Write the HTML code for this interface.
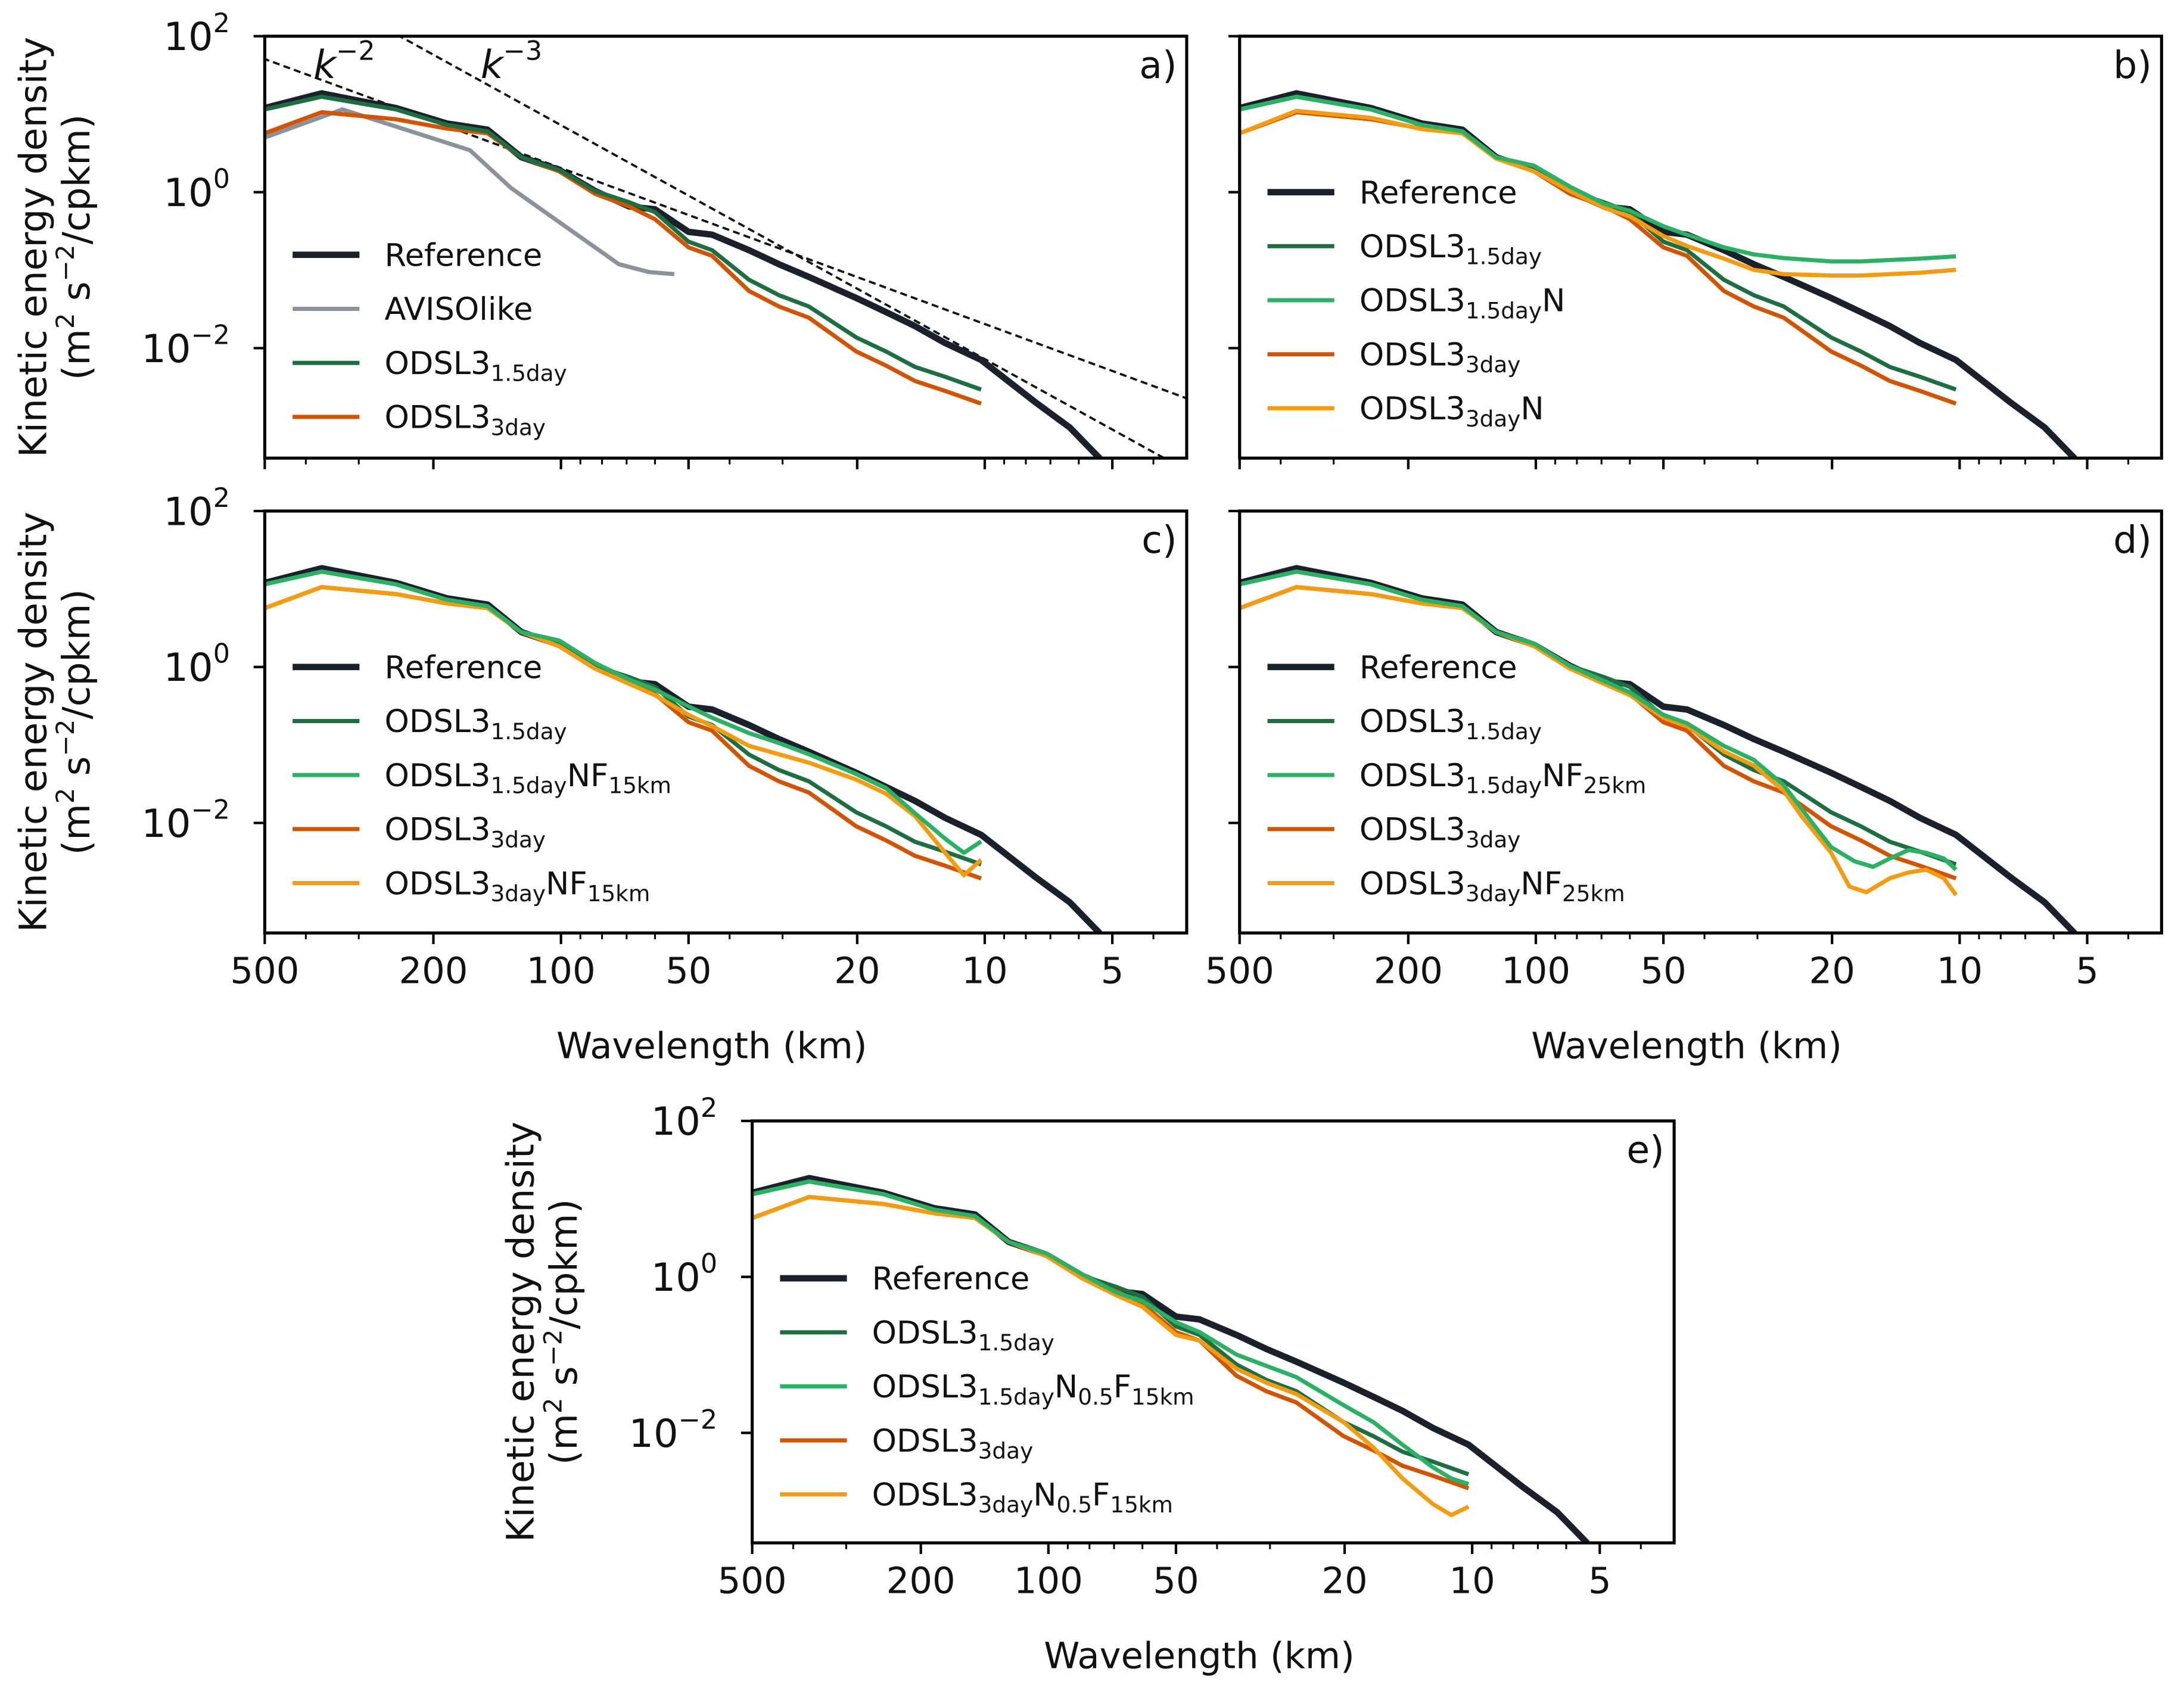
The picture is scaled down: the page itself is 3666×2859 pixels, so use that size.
<!DOCTYPE html>
<html><head><meta charset="utf-8"><style>
html,body{margin:0;padding:0;background:#fff;}
svg{display:block;font-family:"DejaVu Sans","Liberation Sans",sans-serif;}
</style></head><body>
<svg id="fig" xmlns="http://www.w3.org/2000/svg" width="3666" height="2859" viewBox="0 0 1568 1223">
<rect x="0" y="0" width="1568" height="1223" fill="#fff"/>
</svg>
<script>
// ---- data (wavelength km, log10 energy density) ----
const lamGrid = [500,367,245,186,149,124,101,83,69,60,50,44,36,30.6,26,20.1,17.1,14.6,12.4,10.2];
const refLam = [500,367,245,186,149,124,101,83,69,60,50,44,36,30.6,26,20.1,17.1,14.6,12.4,10.2,7.6,6.3,5.35];
const refLog = [1.079,1.267,1.079,0.881,0.801,0.448,0.285,0.014,-0.184,-0.220,-0.509,-0.545,-0.744,-0.924,-1.087,-1.357,-1.538,-1.718,-1.935,-2.152,-2.693,-3.018,-3.415];
const g15Log = [1.061,1.224,1.061,0.863,0.780,0.448,0.285,0.014,-0.130,-0.256,-0.635,-0.744,-1.123,-1.321,-1.466,-1.863,-2.043,-2.242,-2.368,-2.531];
const o3Log = [0.755,1.025,0.935,0.816,0.755,0.448,0.267,-0.022,-0.184,-0.347,-0.708,-0.816,-1.267,-1.466,-1.610,-2.043,-2.224,-2.422,-2.549,-2.711];
const avisoLam = [500,328,164,131,101,73,62,54];
const avisoLog = [0.700,1.061,0.538,0.051,-0.383,-0.924,-1.025,-1.051];
const bG15NLog = [1.061,1.224,1.061,0.863,0.780,0.448,0.339,0.069,-0.148,-0.238,-0.437,-0.545,-0.708,-0.798,-0.845,-0.888,-0.888,-0.870,-0.852,-0.823];
const bO3NLog = [0.755,1.043,0.953,0.809,0.755,0.430,0.267,0.014,-0.202,-0.310,-0.563,-0.690,-0.852,-0.996,-1.051,-1.069,-1.069,-1.051,-1.033,-0.996];
const cLam = [500,367,245,186,149,124,101,83,69,60,50,44,36,30.6,26,20.1,17.1,14.6,12.4,11.2,10.2];
const cG15Log = [1.061,1.224,1.061,0.863,0.780,0.448,0.340,0.050,-0.162,-0.289,-0.505,-0.650,-0.848,-0.975,-1.119,-1.372,-1.552,-1.877,-2.202,-2.383,-2.238];
const cO3Log = [0.755,1.025,0.935,0.816,0.755,0.448,0.267,-0.022,-0.217,-0.361,-0.614,-0.758,-1.011,-1.119,-1.227,-1.444,-1.625,-1.913,-2.383,-2.671,-2.473];
const dG15Lam = [500,367,245,186,149,124,101,83,69,60,50,44,36,30.6,26,22.1,20.1,17.7,16.0,14.6,13.2,12.0,10.9,10.2];
const dG15Log = [1.061,1.224,1.061,0.863,0.780,0.448,0.300,0.014,-0.181,-0.325,-0.614,-0.722,-1.011,-1.191,-1.516,-2.022,-2.310,-2.491,-2.563,-2.455,-2.347,-2.383,-2.455,-2.599];
const dO3Lam = [500,367,245,186,149,124,101,83,69,60,50,44,36,30.6,26,23.6,20.1,18.2,16.6,14.6,13.2,12.0,10.9,10.2];
const dO3Log = [0.755,1.025,0.935,0.816,0.755,0.448,0.267,-0.022,-0.217,-0.361,-0.650,-0.758,-1.083,-1.264,-1.589,-1.913,-2.383,-2.816,-2.888,-2.708,-2.635,-2.599,-2.708,-2.924];
const eG15Log = [1.061,1.224,1.061,0.863,0.780,0.448,0.300,0.030,-0.202,-0.310,-0.581,-0.708,-0.996,-1.141,-1.285,-1.646,-1.863,-2.152,-2.440,-2.585,-2.657];
const eO3Log = [0.755,1.025,0.935,0.816,0.755,0.448,0.267,-0.022,-0.238,-0.383,-0.744,-0.816,-1.177,-1.357,-1.502,-1.863,-2.188,-2.585,-2.910,-3.054,-2.946];
const xTickLabels = [500,200,100,50,20,10,5];
const xMinorTicks = [400,300,90,80,70,60,40,30,9,8,7,6,4];
const yTickExps = [2,0,-2];
const powerExps = [2,3];
const powerAnchorLam = [500,237.5];
const powerAnchorLog = [1.707,1.986];

const C = {ref:'#1b212c', aviso:'#8a929c', g15:'#1d6f42', g15n:'#2bb163', o3:'#d35400', o3n:'#f39c12'};
const LW = 3, RW = 4.6;
const NS='http://www.w3.org/2000/svg';
const svg=document.getElementById('fig');
function el(tag,attrs,parent){const e=document.createElementNS(NS,tag);for(const k in attrs)e.setAttribute(k,attrs[k]);(parent||svg).appendChild(e);return e;}

const W=662,H=303,PXDEC=304.3,PXLOG=56;
const panels=[
 {id:'a',x0:190,y0:26,ylab:true,xlab:false},
 {id:'b',x0:890,y0:26,ylab:false,xlab:false},
 {id:'c',x0:190,y0:367,ylab:true,xlab:true},
 {id:'d',x0:890,y0:367,ylab:false,xlab:true},
 {id:'e',x0:540,y0:805,ylab:true,xlab:true}
];
function xS(p,lam){return p.x0+(Math.log10(500)-Math.log10(lam))*PXDEC;}
function yS(p,lg){return p.y0+(2-lg)*PXLOG;}

function drawLine(p,g,lams,logs,color,w,name){
  let d='';
  for(let i=0;i<lams.length;i++){d+=(i?'L':'M')+xS(p,lams[i]).toFixed(2)+','+yS(p,logs[i]).toFixed(2);}
  const e=el('path',{d:d,fill:'none',stroke:color,'stroke-width':w,'stroke-linejoin':'round','stroke-linecap':'butt'},g);
  
  
}

function legend(p,g,items,y1){
  items.forEach((it,i)=>{
    const y=y1+i*38.8;
    const ln=el('line',{x1:p.x0+20,x2:p.x0+68,y1:y,y2:y,stroke:it.c,'stroke-width':it.w},g);
    
    
    const t=el('text',{x:p.x0+86,y:y+8,'font-size':22.5,fill:'#111'},g);
    
    
    it.parts.forEach(pt=>{
      const ts=el('tspan',{},t);
      if(pt[1]==='sub'){ts.setAttribute('font-size','16');ts.setAttribute('dy','5');}
      else if(pt[1]==='back'){ts.setAttribute('dy','-5');}
      ts.textContent=pt[0];
    });
  });
}
const L={
 ref:{key:'reference',c:C.ref,w:RW,parts:[['Reference']]},
 aviso:{key:'avisolike',c:C.aviso,w:LW,parts:[['AVISOlike']]},
 g15:{key:'odsl3-1p5day',c:C.g15,w:LW,parts:[['ODSL3'],['1.5day','sub']]},
 o3:{key:'odsl3-3day',c:C.o3,w:LW,parts:[['ODSL3'],['3day','sub']]},
 g15n:{key:'odsl3-1p5day-n',c:C.g15n,w:LW,parts:[['ODSL3'],['1.5day','sub'],['N','back']]},
 o3n:{key:'odsl3-3day-n',c:C.o3n,w:LW,parts:[['ODSL3'],['3day','sub'],['N','back']]},
 g15nf15:{key:'odsl3-1p5day-nf15',c:C.g15n,w:LW,parts:[['ODSL3'],['1.5day','sub'],['NF','back'],['15km','sub']]},
 o3nf15:{key:'odsl3-3day-nf15',c:C.o3n,w:LW,parts:[['ODSL3'],['3day','sub'],['NF','back'],['15km','sub']]},
 g15nf25:{key:'odsl3-1p5day-nf25',c:C.g15n,w:LW,parts:[['ODSL3'],['1.5day','sub'],['NF','back'],['25km','sub']]},
 o3nf25:{key:'odsl3-3day-nf25',c:C.o3n,w:LW,parts:[['ODSL3'],['3day','sub'],['NF','back'],['25km','sub']]},
 g15n05:{key:'odsl3-1p5day-n05f15',c:C.g15n,w:LW,parts:[['ODSL3'],['1.5day','sub'],['N','back'],['0.5','sub'],['F','back'],['15km','sub']]},
 o3n05:{key:'odsl3-3day-n05f15',c:C.o3n,w:LW,parts:[['ODSL3'],['3day','sub'],['N','back'],['0.5','sub'],['F','back'],['15km','sub']]}
};

const defs=el('defs',{});
panels.forEach(p=>{
  const g=el('g',{});
  
  
  const cp=el('clipPath',{id:'clip-'+p.id},defs);
  el('rect',{x:p.x0,y:p.y0,width:W,height:H},cp);
  const plot=el('g',{'clip-path':'url(#clip-'+p.id+')'},g);
  
  

  if(p.id==='a'){
    for(let k=0;k<powerExps.length;k++){
      const l1=600,l2=2;
      const lg1=powerAnchorLog[k]-powerExps[k]*(Math.log10(powerAnchorLam[k])-Math.log10(l1));
      const lg2=powerAnchorLog[k]-powerExps[k]*(Math.log10(powerAnchorLam[k])-Math.log10(l2));
      const dl=el('line',{x1:xS(p,l1),y1:yS(p,lg1),x2:xS(p,l2),y2:yS(p,lg2),stroke:'#111','stroke-width':1.6,'stroke-dasharray':'5,3'},plot);
      
      
    }
    drawLine(p,plot,avisoLam,avisoLog,C.aviso,LW,'avisolike-line');
    drawLine(p,plot,refLam,refLog,C.ref,RW,'reference-line');
    drawLine(p,plot,lamGrid,o3Log,C.o3,LW,'odsl3-3day-line');
    drawLine(p,plot,lamGrid,g15Log,C.g15,LW,'odsl3-1p5day-line');
    legend(p,g,[L.ref,L.aviso,L.g15,L.o3],183);
  } else if(p.id==='b'){
    drawLine(p,plot,refLam,refLog,C.ref,RW,'reference-line');
    drawLine(p,plot,lamGrid,o3Log,C.o3,LW,'odsl3-3day-line');
    drawLine(p,plot,lamGrid,g15Log,C.g15,LW,'odsl3-1p5day-line');
    drawLine(p,plot,lamGrid,bO3NLog,C.o3n,LW,'odsl3-3day-n-line');
    drawLine(p,plot,lamGrid,bG15NLog,C.g15n,LW,'odsl3-1p5day-n-line');
    legend(p,g,[L.ref,L.g15,L.g15n,L.o3,L.o3n],138);
  } else if(p.id==='c'){
    drawLine(p,plot,refLam,refLog,C.ref,RW,'reference-line');
    drawLine(p,plot,lamGrid,o3Log,C.o3,LW,'odsl3-3day-line');
    drawLine(p,plot,lamGrid,g15Log,C.g15,LW,'odsl3-1p5day-line');
    drawLine(p,plot,cLam,cO3Log,C.o3n,LW,'odsl3-3day-nf15-line');
    drawLine(p,plot,cLam,cG15Log,C.g15n,LW,'odsl3-1p5day-nf15-line');
    legend(p,g,[L.ref,L.g15,L.g15nf15,L.o3,L.o3nf15],479);
  } else if(p.id==='d'){
    drawLine(p,plot,refLam,refLog,C.ref,RW,'reference-line');
    drawLine(p,plot,lamGrid,o3Log,C.o3,LW,'odsl3-3day-line');
    drawLine(p,plot,lamGrid,g15Log,C.g15,LW,'odsl3-1p5day-line');
    drawLine(p,plot,dO3Lam,dO3Log,C.o3n,LW,'odsl3-3day-nf25-line');
    drawLine(p,plot,dG15Lam,dG15Log,C.g15n,LW,'odsl3-1p5day-nf25-line');
    legend(p,g,[L.ref,L.g15,L.g15nf25,L.o3,L.o3nf25],479);
  } else {
    drawLine(p,plot,refLam,refLog,C.ref,RW,'reference-line');
    drawLine(p,plot,lamGrid,o3Log,C.o3,LW,'odsl3-3day-line');
    drawLine(p,plot,lamGrid,g15Log,C.g15,LW,'odsl3-1p5day-line');
    drawLine(p,plot,cLam,eO3Log,C.o3n,LW,'odsl3-3day-n05f15-line');
    drawLine(p,plot,cLam,eG15Log,C.g15n,LW,'odsl3-1p5day-n05f15-line');
    legend(p,g,[L.ref,L.g15,L.g15n05,L.o3,L.o3n05],918);
  }

  const fr=el('rect',{x:p.x0,y:p.y0,width:W,height:H,fill:'none',stroke:'#000','stroke-width':2.2},g);
  
  

  const yb=p.y0+H;
  xTickLabels.forEach(v=>{
    const x=xS(p,v);
    const t=el('line',{x1:x,x2:x,y1:yb,y2:yb+8,stroke:'#000','stroke-width':1.8},g);
    
    
    if(p.xlab){
      const lb=el('text',{x:x,y:yb+36,'font-size':26,'text-anchor':'middle',fill:'#111'},g);
      
      
      lb.textContent=String(v);
    }
  });
  xMinorTicks.forEach(v=>{
    const x=xS(p,v);
    const t=el('line',{x1:x,x2:x,y1:yb,y2:yb+4.5,stroke:'#000','stroke-width':1.3},g);
    
    
  });
  if(p.xlab){
    const xl=el('text',{x:p.x0+W/2-10,y:yb+90,'font-size':26,'text-anchor':'middle',fill:'#111'},g);
    
    
    xl.textContent='Wavelength (km)';
  }
  yTickExps.forEach(ex=>{
    const y=yS(p,ex);
    const t=el('line',{x1:p.x0-8,x2:p.x0,y1:y,y2:y,stroke:'#000','stroke-width':1.8},g);
    
    
    if(p.ylab){
      const lb=el('text',{x:p.x0-25,y:y+10,'font-size':28,'text-anchor':'end',fill:'#111'},g);
      
      
      const a=el('tspan',{},lb);a.textContent='10';
      const b=el('tspan',{dy:-13,'font-size':19},lb);b.textContent=(ex<0?'\u2212':'')+Math.abs(ex);
    }
  });
  if(p.ylab){
    const cy=p.y0+H/2;
    const xl1=p.x0-157, xl2=p.x0-126;
    const t1=el('text',{x:xl1,y:cy,'font-size':27,'text-anchor':'middle',fill:'#111',transform:'rotate(-90 '+xl1+' '+cy+')'},g);
    
    
    t1.textContent='Kinetic energy density';
    const t2=el('text',{x:xl2,y:cy,'font-size':27,'text-anchor':'middle',fill:'#111',transform:'rotate(-90 '+xl2+' '+cy+')'},g);
    
    
    const s1=el('tspan',{},t2);s1.textContent='(m';
    const s2=el('tspan',{dy:-11,'font-size':18},t2);s2.textContent='2';
    const s3=el('tspan',{dy:11},t2);s3.textContent=' s';
    const s4=el('tspan',{dy:-11,'font-size':18},t2);s4.textContent='\u22122';
    const s5=el('tspan',{dy:11},t2);s5.textContent='/cpkm)';
  }
  const pl=el('text',{x:p.x0+W-7,y:p.y0+30,'font-size':27,'text-anchor':'end',fill:'#111'},g);
  
  
  pl.textContent=p.id+')';

  if(p.id==='a'){
    [['k-2-label',225,'2'],['k-3-label',345,'3']].forEach(q=>{
      const t=el('text',{x:q[1],y:p.y0+30,'font-size':28,fill:'#111'},g);
      
      
      const a=el('tspan',{'font-style':'italic'},t);a.textContent='k';
      const b=el('tspan',{dy:-13,'font-size':19},t);b.textContent='\u2212'+q[2];
    });
  }
});
</script>
</body></html>
